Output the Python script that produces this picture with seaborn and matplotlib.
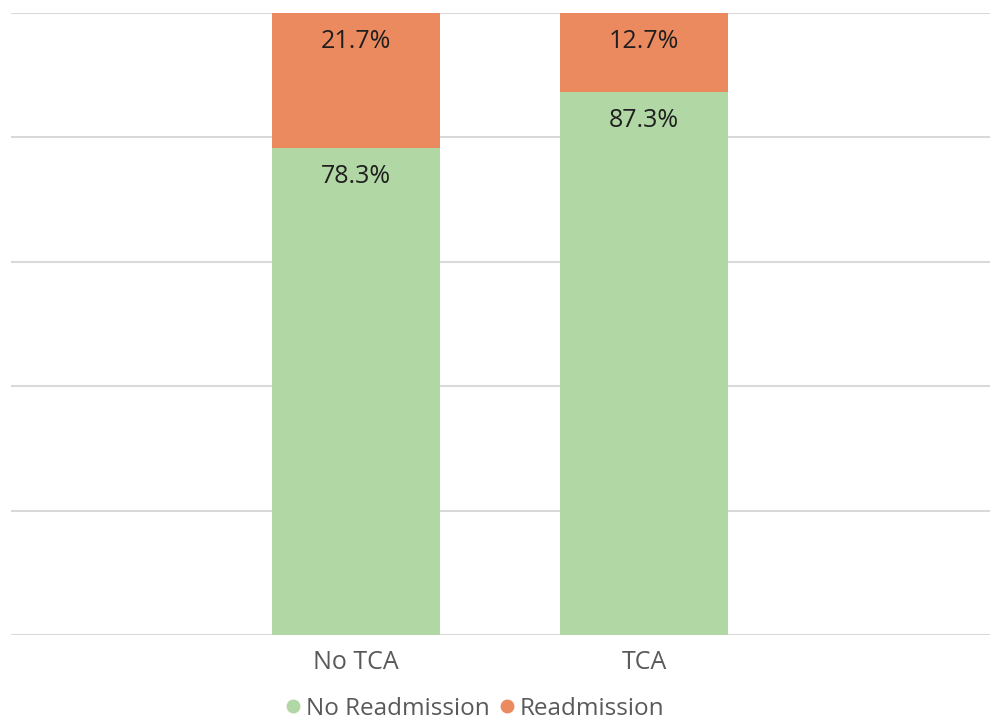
import matplotlib
matplotlib.use('Agg')
import matplotlib.pyplot as plt
from matplotlib.lines import Line2D
import seaborn as sns
import pandas as pd

groups = ['No TCA', 'TCA']
no_readmission = [78.3, 87.3]
readmission = [21.7, 12.7]
series_names = ['No Readmission', 'Readmission']
colors = ['#B1D7A4', '#EB8A5F']

df = pd.DataFrame({'group': groups,
                   'no_readm': no_readmission,
                   'readm': readmission})
df['total'] = df['no_readm'] + df['readm']

sns.set_style('white')
plt.rcParams['font.family'] = ['Open Sans', 'DejaVu Sans']

fig = plt.figure(figsize=(9.92, 7.21), dpi=100)
ax = fig.add_axes([11 / 992, 86 / 721, 979 / 992, 622 / 721])

# stacked bars: total in orange, green bottom part over it
sns.barplot(data=df, x='group', y='total', color=colors[1], width=0.583,
            saturation=1, linewidth=0, ax=ax, zorder=2)
sns.barplot(data=df, x='group', y='no_readm', color=colors[0], width=0.583,
            saturation=1, linewidth=0, ax=ax, zorder=3)

ax.set_ylim(0, 100)
ax.set_xlim(-1.195, 2.2)
ax.set_yticks([0, 20, 40, 60, 80, 100])
ax.set_yticklabels([])
ax.yaxis.grid(True, color='#D9D9D9', linewidth=1.5, zorder=0)
ax.set_axisbelow(True)
for s in ax.spines.values():
    s.set_visible(False)
ax.tick_params(axis='both', length=0)
ax.tick_params(axis='x', labelsize=18, labelcolor='#595959', pad=11)
ax.set_xlabel('')
ax.set_ylabel('')

# value labels near the top of each segment
for i, row in df.iterrows():
    ax.text(i, row['total'] - 2.6, f"{row['readm']:.1f}%", ha='center', va='top',
            fontsize=18, color='#1F1F1F', zorder=5)
    ax.text(i, row['no_readm'] - 2.6, f"{row['no_readm']:.1f}%", ha='center', va='top',
            fontsize=18, color='#1F1F1F', zorder=5)

handles = [Line2D([], [], marker='o', linestyle='', markersize=9,
                  markerfacecolor=c, markeredgecolor=c) for c in colors]
fig.legend(handles, series_names, loc='center', bbox_to_anchor=(0.479, 12 / 721),
           ncol=2, frameon=False, fontsize=17.5, handlelength=0.6,
           handletextpad=0.2, columnspacing=0.45, labelcolor='#595959')

plt.savefig('out.png', dpi=100)
plt.close()
